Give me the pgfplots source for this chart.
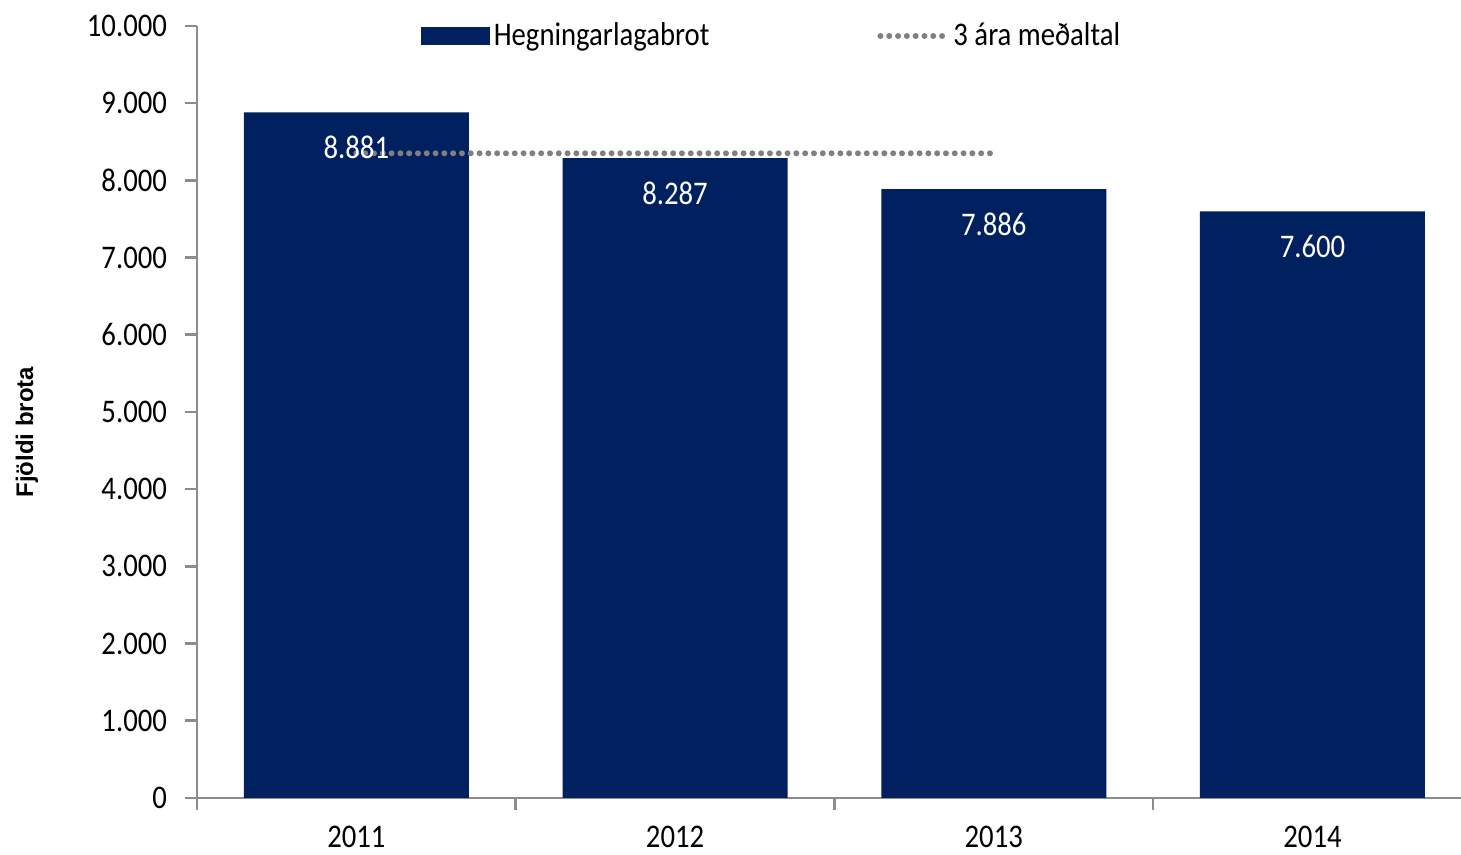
\documentclass[border=0pt]{standalone}
\usepackage{fontspec}
\setmainfont{Carlito}[FakeStretch=0.87]
\newfontfamily\arialfont{Liberation Sans}
\usepackage{pgfplots}
\pgfplotsset{compat=1.18}
\definecolor{navy}{RGB}{0,32,96}
\definecolor{axgray}{RGB}{140,140,140}
\definecolor{dotgray}{RGB}{128,128,128}
\newcommand\lblfont{\fontsize{16.5}{19}\selectfont}

\begin{document}
\begin{tikzpicture}
\begin{axis}[
  at={(98.5pt,28.5pt)}, anchor=south west,
  scale only axis,
  width=632pt, height=386pt,
  xmin=-0.5, xmax=3.466,
  ymin=0, ymax=10000,
  axis lines=left,
  axis line style={-, line width=1.3pt, axgray},
  xtick={-0.5,0.5,1.5,2.5},
  xticklabels={},
  extra x ticks={0,1,2,3},
  extra x tick labels={2011,2012,2013,2014},
  extra x tick style={major tick length=0pt, xticklabel style={yshift=-10.5pt}},
  ytick={0,1000,...,10000},
  scaled y ticks=false,
  tick style={axgray, line width=1.3pt},
  tick align=outside,
  major tick length=6pt,
  /pgf/number format/1000 sep={.},
  /pgf/number format/assume math mode=true,
  tick label style={font=\lblfont},
  yticklabel style={xshift=-5.5pt},
  ylabel={\arialfont\bfseries Fjöldi brota},
  ylabel style={at={(axis description cs:-0.1345,0.474)}, anchor=center, font=\fontsize{12}{14}\selectfont},
  legend style={at={(0.172,0.987)}, anchor=west, draw=none, fill=none, font=\lblfont,
    /tikz/every even column/.append style={column sep=82pt}},
  legend columns=2,
  legend cell align=left,
  clip=false,
]
\addplot[ybar, bar width=0.706, fill=navy, draw=none,
  nodes near coords,
  every node near coord/.append style={anchor=center, yshift=-17.5pt, text=white, font=\lblfont},
  legend image code/.code={\fill[navy] (0pt,-4.5pt) rectangle (34.5pt,4.5pt);}]
  coordinates {(0,8881) (1,8287) (2,7886) (3,7600)};
\addlegendentry{Hegningarlagabrot}
\addplot[dotgray, line width=3pt, line cap=round, dash pattern=on 0pt off 4.4pt,
  legend image code/.code={\draw[dotgray, line width=3pt, line cap=round, dash pattern=on 0pt off 4.4pt] (1pt,0pt) -- (34pt,0pt);}]
  coordinates {(0,8351) (2,8351)};
\addlegendentry{3 ára meðaltal}
\end{axis}
\pgfresetboundingbox
\useasboundingbox (0,0) rectangle (730.5pt,427.5pt);
\end{tikzpicture}
\end{document}
